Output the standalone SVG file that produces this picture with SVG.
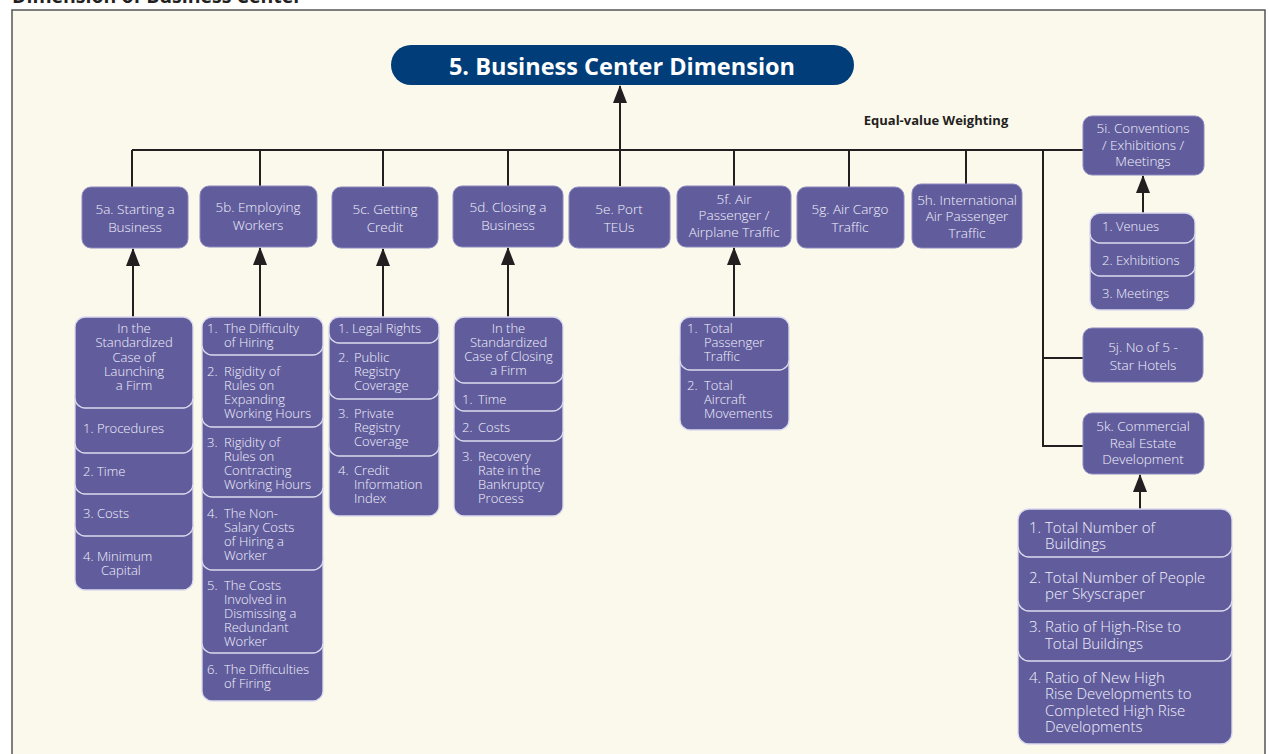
<svg xmlns="http://www.w3.org/2000/svg" width="1269" height="754" viewBox="0 0 1269 754">
<defs>
<style>
.box{fill:#615d9d;stroke:#8c89c0;stroke-width:1}
.it{fill:#615d9d;stroke:#dcdaee;stroke-width:1.3}
.t{font-family:"Open Sans","Noto Sans",sans-serif;font-weight:300;font-size:13.5px;fill:#f2f0fa}
.tc{text-anchor:middle}
.l{font-family:"Open Sans","Noto Sans",sans-serif;font-weight:300;font-size:13px;fill:#f2f0fa}
.lk{font-family:"Open Sans","Noto Sans",sans-serif;font-weight:300;font-size:15px;fill:#f2f0fa}
.ln{fill:none;stroke:#231f20;stroke-width:2}
.ar{fill:none;stroke:#231f20;stroke-width:2;marker-end:url(#ah)}
</style>
<marker id="ah" markerUnits="userSpaceOnUse" markerWidth="18" markerHeight="14" viewBox="0 0 18 14" refX="17" refY="7" orient="auto"><path d="M0,0 L18,7 L0,14 z" fill="#231f20"/></marker>
</defs>
<rect x="0" y="0" width="1269" height="754" fill="#ffffff"/>
<rect x="12" y="10" width="1253" height="760" fill="#fbf8ec" stroke="#555" stroke-width="1.5"/>
<text x="12" y="3" font-family="'Open Sans','Noto Sans',sans-serif" font-weight="700" font-size="19.5" fill="#231f20">Dimension of Business Center</text>

<g id="connectors">
<path class="ln" d="M132 150 H1083 M132 150 V187 M260 150 V186 M383 150 V186 M508 150 V186 M620 150 V186 M734 150 V186 M849 150 V187 M966 150 V184 M1043 150 V446 H1083 M1043 358 H1083"/>
<line class="ar" x1="620" y1="150" x2="620" y2="86"/>
<line class="ar" x1="133" y1="317" x2="133" y2="249"/>
<line class="ar" x1="260" y1="317" x2="260" y2="248"/>
<line class="ar" x1="383" y1="317" x2="383" y2="249"/>
<line class="ar" x1="508" y1="317" x2="508" y2="248"/>
<line class="ar" x1="734" y1="317" x2="734" y2="248"/>
<line class="ar" x1="1143" y1="213" x2="1143" y2="176"/>
<line class="ar" x1="1140" y1="509" x2="1140" y2="475"/>
</g>

<g id="title">
<rect x="391" y="45" width="463" height="40" rx="20" fill="#003d79"/>
<text x="622" y="75" text-anchor="middle" font-family="'Open Sans','Noto Sans',sans-serif" font-weight="700" font-size="23.5" fill="#ffffff">5. Business Center Dimension</text>
</g>
<text id="weighting" x="936" y="125" text-anchor="middle" font-family="'Open Sans','Noto Sans',sans-serif" font-weight="700" font-size="13" fill="#231f20">Equal-value Weighting</text>

<g id="n5a"><rect class="box" x="82" y="187" width="106" height="61" rx="9"/>
<text class="t tc" x="135" y="214">5a. Starting a</text><text class="t tc" x="135" y="232">Business</text></g>
<g id="n5b"><rect class="box" x="200" y="186" width="117" height="61" rx="9"/>
<text class="t tc" x="258" y="212">5b. Employing</text><text class="t tc" x="258" y="230">Workers</text></g>
<g id="n5c"><rect class="box" x="332" y="187" width="106" height="61" rx="9"/>
<text class="t tc" x="385" y="214">5c. Getting</text><text class="t tc" x="385" y="232">Credit</text></g>
<g id="n5d"><rect class="box" x="453" y="186" width="110" height="61" rx="9"/>
<text class="t tc" x="508" y="212">5d. Closing a</text><text class="t tc" x="508" y="230">Business</text></g>
<g id="n5e"><rect class="box" x="569" y="187" width="101" height="61" rx="9"/>
<text class="t tc" x="619" y="214">5e. Port</text><text class="t tc" x="619" y="232">TEUs</text></g>
<g id="n5f"><rect class="box" x="677" y="186" width="114" height="61" rx="9"/>
<text class="t tc" x="734" y="204">5f. Air</text><text class="t tc" x="734" y="220">Passenger /</text><text class="t tc" x="734" y="237">Airplane Traffic</text></g>
<g id="n5g"><rect class="box" x="797" y="187" width="107" height="61" rx="9"/>
<text class="t tc" x="850" y="214">5g. Air Cargo</text><text class="t tc" x="850" y="232">Traffic</text></g>
<g id="n5h"><rect class="box" x="912" y="184" width="110" height="64" rx="9"/>
<text class="t tc" x="967" y="205">5h. International</text><text class="t tc" x="967" y="221">Air Passenger</text><text class="t tc" x="967" y="238">Traffic</text></g>
<g id="n5i"><rect class="box" x="1083" y="116" width="121" height="59" rx="9"/>
<text class="t tc" x="1143" y="133">5i. Conventions</text><text class="t tc" x="1143" y="150">/ Exhibitions /</text><text class="t tc" x="1143" y="166">Meetings</text></g>
<g id="n5j"><rect class="box" x="1083" y="328" width="120" height="54" rx="9"/>
<text class="t tc" x="1143" y="352">5j. No of 5 -</text><text class="t tc" x="1143" y="370">Star Hotels</text></g>
<g id="n5k"><rect class="box" x="1083" y="413" width="121" height="61" rx="9"/>
<text class="t tc" x="1143" y="431">5k. Commercial</text><text class="t tc" x="1143" y="448">Real Estate</text><text class="t tc" x="1143" y="464">Development</text></g>

<g id="list5a">
<rect class="it" x="75" y="516" width="118" height="74" rx="10"/>
<rect class="it" x="75" y="474" width="118" height="62" rx="10"/>
<rect class="it" x="75" y="433" width="118" height="61" rx="10"/>
<rect class="it" x="75" y="388" width="118" height="65" rx="10"/>
<rect class="it" x="75" y="317" width="118" height="91" rx="10"/>
<text class="l tc" x="134" y="333">In the</text><text class="l tc" x="134" y="347">Standardized</text><text class="l tc" x="134" y="362">Case of</text><text class="l tc" x="134" y="376">Launching</text><text class="l tc" x="134" y="390">a Firm</text>
<text class="l" x="83" y="433">1. Procedures</text>
<text class="l" x="83" y="476">2. Time</text>
<text class="l" x="83" y="518">3. Costs</text>
<text class="l" x="83" y="561">4. Minimum</text><text class="l" x="101" y="575">Capital</text>
</g>

<g id="list5b">
<rect class="it" x="202" y="633" width="121" height="68" rx="10"/>
<rect class="it" x="202" y="550" width="121" height="103" rx="10"/>
<rect class="it" x="202" y="477" width="121" height="93" rx="10"/>
<rect class="it" x="202" y="407" width="121" height="90" rx="10"/>
<rect class="it" x="202" y="335" width="121" height="92" rx="10"/>
<rect class="it" x="202" y="317" width="121" height="38" rx="10"/>
<text class="l" x="207" y="333">1.</text><text class="l" x="224" y="333">The Difficulty</text><text class="l" x="224" y="347">of Hiring</text>
<text class="l" x="207" y="376">2.</text><text class="l" x="224" y="376">Rigidity of</text><text class="l" x="224" y="390">Rules on</text><text class="l" x="224" y="404">Expanding</text><text class="l" x="224" y="418">Working Hours</text>
<text class="l" x="207" y="447">3.</text><text class="l" x="224" y="447">Rigidity of</text><text class="l" x="224" y="461">Rules on</text><text class="l" x="224" y="475">Contracting</text><text class="l" x="224" y="489">Working Hours</text>
<text class="l" x="207" y="518">4.</text><text class="l" x="224" y="518">The Non-</text><text class="l" x="224" y="532">Salary Costs</text><text class="l" x="224" y="546">of Hiring a</text><text class="l" x="224" y="560">Worker</text>
<text class="l" x="207" y="590">5.</text><text class="l" x="224" y="590">The Costs</text><text class="l" x="224" y="604">Involved in</text><text class="l" x="224" y="618">Dismissing a</text><text class="l" x="224" y="632">Redundant</text><text class="l" x="224" y="646">Worker</text>
<text class="l" x="207" y="674">6.</text><text class="l" x="224" y="674">The Difficulties</text><text class="l" x="224" y="688">of Firing</text>
</g>

<g id="list5c">
<rect class="it" x="329" y="436" width="110" height="80" rx="10"/>
<rect class="it" x="329" y="379" width="110" height="77" rx="10"/>
<rect class="it" x="329" y="323" width="110" height="76" rx="10"/>
<rect class="it" x="329" y="317" width="110" height="26" rx="10"/>
<text class="l" x="338" y="333">1. Legal Rights</text>
<text class="l" x="338" y="362">2.</text><text class="l" x="354" y="362">Public</text><text class="l" x="354" y="376">Registry</text><text class="l" x="354" y="390">Coverage</text>
<text class="l" x="338" y="418">3.</text><text class="l" x="354" y="418">Private</text><text class="l" x="354" y="432">Registry</text><text class="l" x="354" y="446">Coverage</text>
<text class="l" x="338" y="475">4.</text><text class="l" x="354" y="475">Credit</text><text class="l" x="354" y="489">Information</text><text class="l" x="354" y="503">Index</text>
</g>

<g id="list5d">
<rect class="it" x="454" y="421" width="109" height="95" rx="10"/>
<rect class="it" x="454" y="391" width="109" height="50" rx="10"/>
<rect class="it" x="454" y="363" width="109" height="48" rx="10"/>
<rect class="it" x="454" y="317" width="109" height="66" rx="10"/>
<text class="l tc" x="508.5" y="333">In the</text><text class="l tc" x="508.5" y="347">Standardized</text><text class="l tc" x="508.5" y="361">Case of Closing</text><text class="l tc" x="508.5" y="375">a Firm</text>
<text class="l" x="462" y="404">1.</text><text class="l" x="478" y="404">Time</text>
<text class="l" x="462" y="432">2.</text><text class="l" x="478" y="432">Costs</text>
<text class="l" x="462" y="461">3.</text><text class="l" x="478" y="461">Recovery</text><text class="l" x="478" y="475">Rate in the</text><text class="l" x="478" y="489">Bankruptcy</text><text class="l" x="478" y="503">Process</text>
</g>

<g id="list5f">
<rect class="it" x="680" y="350" width="109" height="80" rx="10"/>
<rect class="it" x="680" y="317" width="109" height="53" rx="10"/>
<text class="l" x="687" y="333">1.</text><text class="l" x="704" y="333">Total</text><text class="l" x="704" y="347">Passenger</text><text class="l" x="704" y="361">Traffic</text>
<text class="l" x="687" y="390">2.</text><text class="l" x="704" y="390">Total</text><text class="l" x="704" y="404">Aircraft</text><text class="l" x="704" y="418">Movements</text>
</g>

<g id="list5i">
<rect class="it" x="1090" y="256" width="105" height="54" rx="10"/>
<rect class="it" x="1090" y="223" width="105" height="53" rx="10"/>
<rect class="it" x="1090" y="213" width="105" height="30" rx="10"/>
<text class="l" x="1102" y="231">1. Venues</text>
<text class="l" x="1102" y="265">2. Exhibitions</text>
<text class="l" x="1102" y="298">3. Meetings</text>
</g>

<g id="list5k">
<rect class="it" x="1018" y="641" width="214" height="103" rx="11"/>
<rect class="it" x="1018" y="591" width="214" height="70" rx="11"/>
<rect class="it" x="1018" y="537" width="214" height="74" rx="11"/>
<rect class="it" x="1018" y="509" width="214" height="48" rx="11"/>
<text class="lk" x="1029" y="533">1.</text><text class="lk" x="1045" y="533">Total Number of</text><text class="lk" x="1045" y="549">Buildings</text>
<text class="lk" x="1029" y="583">2.</text><text class="lk" x="1045" y="583">Total Number of People</text><text class="lk" x="1045" y="599">per Skyscraper</text>
<text class="lk" x="1029" y="632">3.</text><text class="lk" x="1045" y="632">Ratio of High-Rise to</text><text class="lk" x="1045" y="649">Total Buildings</text>
<text class="lk" x="1029" y="683">4.</text><text class="lk" x="1045" y="683">Ratio of New High</text><text class="lk" x="1045" y="699">Rise Developments to</text><text class="lk" x="1045" y="716">Completed High Rise</text><text class="lk" x="1045" y="732">Developments</text>
</g>
</svg>
